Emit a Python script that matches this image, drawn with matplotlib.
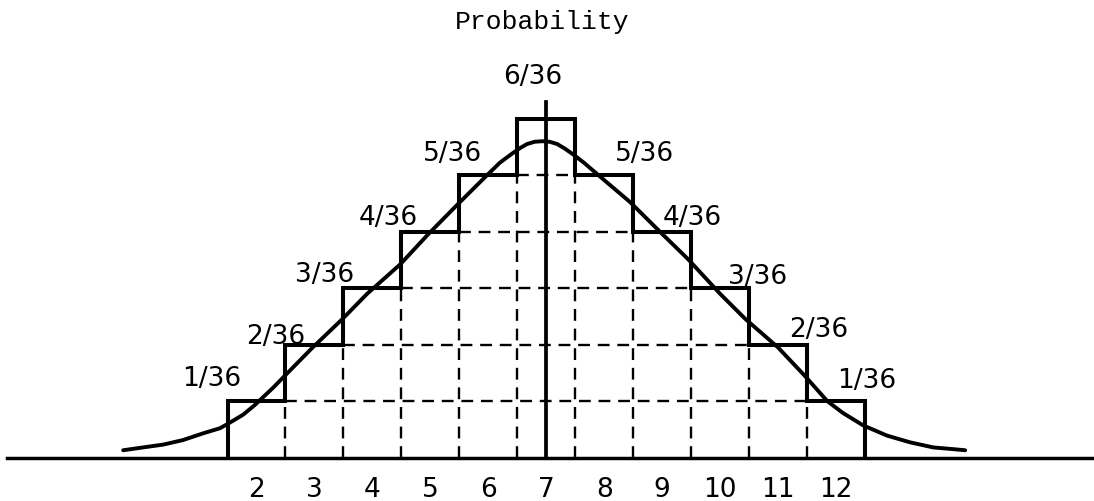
import matplotlib
matplotlib.use("Agg")
import matplotlib.pyplot as plt
import numpy as np

# ---- data ----
sums = [2, 3, 4, 5, 6, 7, 8, 9, 10, 11, 12]
counts = [1, 2, 3, 4, 5, 6, 5, 4, 3, 2, 1]          # ways out of 36
prob_labels = ["1/36", "2/36", "3/36", "4/36", "5/36", "6/36",
               "5/36", "4/36", "3/36", "2/36", "1/36"]
tick_labels = ["2", "3", "4", "5", "6", "7", "8", "9", "10", "11", "12"]
title_text = "Probability"

# smooth (bell) curve, x in sum units, y in 1/36 units
curve_x = [-0.30, 0.04, 0.39, 0.73, 1.08, 1.37, 1.51, 1.77, 1.97, 2.29, 2.49,
           2.96, 3.48, 3.91, 4.48, 4.96, 5.46, 5.94, 6.20, 6.41, 6.55, 6.67,
           6.80, 6.93, 7.06, 7.19, 7.32, 7.46, 7.65, 7.98, 8.45, 9.00, 9.45,
           10.00, 10.43, 11.00, 11.46, 11.85, 12.12, 12.47, 12.88, 13.28,
           13.68, 14.02, 14.23]
curve_y = [0.13, 0.18, 0.23, 0.31, 0.43, 0.52, 0.60, 0.76, 0.93, 1.24, 1.45,
           1.94, 2.45, 2.90, 3.42, 3.95, 4.47, 4.96, 5.22, 5.38, 5.48, 5.55,
           5.59, 5.60, 5.59, 5.55, 5.47, 5.37, 5.22, 4.93, 4.52, 3.96, 3.51,
           2.90, 2.46, 1.95, 1.45, 1.00, 0.79, 0.57, 0.39, 0.27,
           0.18, 0.15, 0.13]

# ---- layout (positions of the fraction labels, in data units) ----
label_pos = [(1.23, 1.41), (2.34, 2.15), (3.17, 3.25), (4.27, 4.26),
             (5.39, 5.39), (6.77, 6.75), (8.70, 5.39), (9.52, 4.26),
             (10.64, 3.21), (11.71, 2.27), (12.53, 1.37)]

fig = plt.figure(figsize=(10.94, 5.02), dpi=100)
ax = fig.add_axes([0, 0, 1, 1])
ax.set_xlim(-2.426, 16.453)
ax.set_ylim(-0.768, 8.117)
ax.axis("off")

edges = np.arange(len(sums) + 1) + sums[0] - 0.5
heights = np.array(counts)

ink = "black"
dash = (0, (5, 3.3))

# dashed internal grid (unit boxes)
for k in range(1, max(counts)):
    inside = [i for i, h in enumerate(counts) if h > k]
    if inside:
        ax.plot([edges[inside[0]], edges[inside[-1] + 1]], [k, k],
                color=ink, lw=1.7, linestyle=dash, zorder=2)
for i in range(len(counts) - 1):
    top = min(counts[i], counts[i + 1])
    ax.plot([edges[i + 1], edges[i + 1]], [0, top],
            color=ink, lw=1.7, linestyle=dash, zorder=2)

# staircase outline
ax.stairs(heights, edges, baseline=0, fill=False, color=ink, lw=2.9, zorder=3)

# baseline and vertical axis
ax.plot([-2.3, 16.45], [0, 0], color=ink, lw=2.5, zorder=3)
ax.plot([7, 7], [0, 6.3], color=ink, lw=2.7, zorder=3)

# bell curve
ax.plot(curve_x, curve_y, color=ink, lw=2.8, solid_capstyle="round",
        solid_joinstyle="round", zorder=4)

# fraction labels
for (x, y), s in zip(label_pos, prob_labels):
    ax.text(x, y, s, fontsize=19, family="DejaVu Sans", ha="center",
            va="center", color=ink)

# sum labels
for x, s in zip(sums, tick_labels):
    ax.text(x, -0.56, s, fontsize=19, family="DejaVu Sans", ha="center",
            va="center", color=ink)

ax.text(0.496, 0.956, title_text, transform=ax.transAxes, fontsize=19,
        family="Liberation Mono", ha="center", va="center", color=ink)

fig.savefig("out.png", dpi=100)
